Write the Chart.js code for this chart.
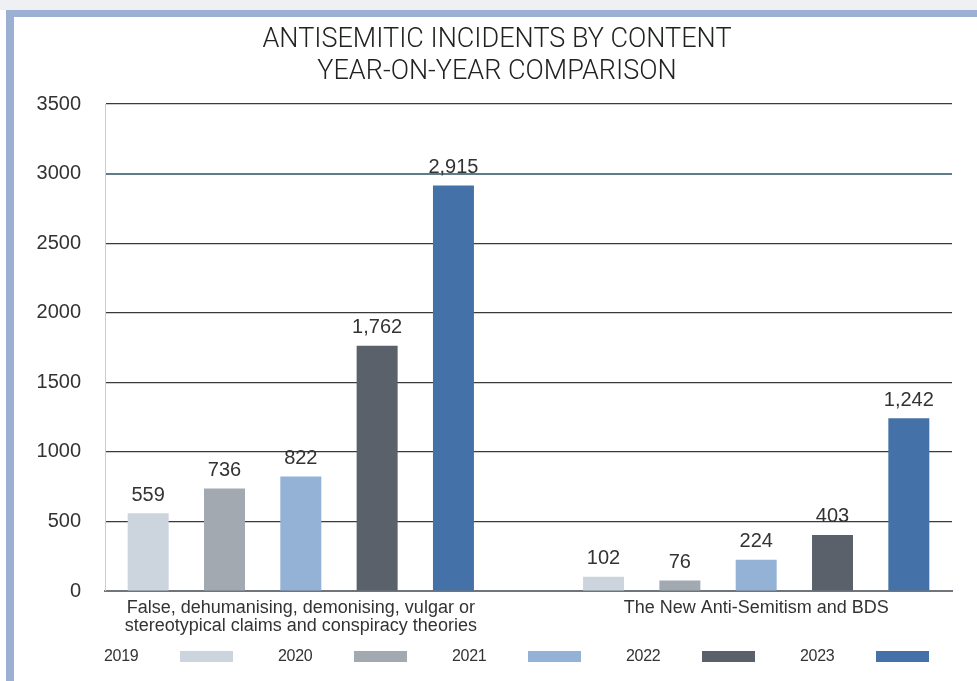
<!DOCTYPE html>
<html>
<head>
<meta charset="utf-8">
<script src="https://cdn.jsdelivr.net/npm/chart.js@4/dist/chart.umd.min.js"></script>
<style>
  html, body { margin: 0; padding: 0; background: #fff; }
  #wrap { position: relative; width: 977px; height: 681px; overflow: hidden; }
  #topStrip { position: absolute; left: 0; top: 0; width: 977px; height: 10px; background: #eef0f3; }
  #topBand { position: absolute; left: 6px; top: 10px; width: 971px; height: 7px; background: #9cb0d4; }
  #leftBand { position: absolute; left: 6px; top: 10px; width: 8px; height: 671px; background: #9cb0d4; }
  #chart { position: absolute; left: 0; top: 0; }
  #title { position: absolute; left: 197px; top: 22px; width: 600px; text-align: center;
           font: 300 27px/32px Roboto, sans-serif; color: #222; }
  #legend { position: absolute; left: 104px; top: 646px; display: flex; font: 16px "Liberation Sans", Arial, sans-serif; color: #333; }
  .item { display: flex; align-items: center; width: 174px; height: 20px; }
  .item span { width: 76px; letter-spacing: -0.3px; }
  .item i { display: block; width: 53px; height: 11px; }
</style>
</head>
<body>
<div id="wrap">
  <div id="topStrip"></div>
  <div id="topBand"></div>
  <div id="leftBand"></div>
  <canvas id="chart" width="977" height="681"></canvas>
  <div id="title"></div>
  <div id="legend"></div>
</div>
<script>
// ── Data ─────────────────────────────────────────────
const titleLines = ['ANTISEMITIC INCIDENTS BY CONTENT', 'YEAR-ON-YEAR COMPARISON'];
const categories = [
  ['False, dehumanising, demonising, vulgar or', 'stereotypical claims and conspiracy theories'],
  'The New Anti-Semitism and BDS'
];
const years = ['2019', '2020', '2021', '2022', '2023'];
const v2019 = [559, 102];
const v2020 = [736, 76];
const v2021 = [822, 224];
const v2022 = [1762, 403];
const v2023 = [2915, 1242];
const yTicks = [0, 500, 1000, 1500, 2000, 2500, 3000, 3500];
const colors = ['#ccd5de', '#a3a9b1', '#94b1d6', '#5a616b', '#4472a8'];

const series = [v2019, v2020, v2021, v2022, v2023];

// ── Value labels above bars ──────────────────────────
const valueLabels = {
    id: 'valueLabels',
    afterDatasetsDraw(chart) {
        const ctx = chart.ctx;
        ctx.save();
        ctx.font = '20px "Liberation Sans", Arial, sans-serif';
        ctx.fillStyle = '#333';
        ctx.textAlign = 'center';
        ctx.textBaseline = 'bottom';
        chart.data.datasets.forEach((ds, i) => {
            chart.getDatasetMeta(i).data.forEach((bar, j) => {
                ctx.fillText(ds.data[j].y.toLocaleString('en-US'), bar.x, bar.y - 8);
            });
        });
        ctx.restore();
    }
};

new Chart(document.getElementById('chart'), {
    type: 'bar',
    data: {
        datasets: years.map((yr, i) => ({
            label: yr,
            data: categories.map((c, j) => ({ x: j, y: series[i][j] })),
            backgroundColor: colors[i],
            categoryPercentage: 0.838,
            barPercentage: 0.537
        }))
    },
    options: {
        responsive: false,
        animation: false,
        layout: { padding: { left: 20, right: 25, top: 104, bottom: 46 } },
        plugins: {
            legend: { display: false },
            tooltip: { enabled: false }
        },
        scales: {
            x: {
                type: 'linear',
                offset: false,
                min: -0.43,
                max: 1.43,
                afterBuildTicks: s => { s.ticks = categories.map((c, i) => ({ value: i })); },
                grid: { display: false },
                border: { color: '#6f757b', width: 2 },
                ticks: {
                    autoSkip: false,
                    maxRotation: 0,
                    padding: 0,
                    color: '#333',
                    font: { family: 'Liberation Sans', size: 18, lineHeight: 1.0 },
                    callback: v => categories[Math.round(v)]
                }
            },
            y: {
                min: 0,
                max: 3500,
                afterBuildTicks: s => { s.ticks = yTicks.map(v => ({ value: v })); },
                afterFit: s => { s.width = 85; },
                grid: {
                    drawTicks: false,
                    color: c => c.tick.value === 3000 ? '#5f7d86' : (c.tick.value === 0 ? '#6f757b' : '#3a3a3a'),
                    lineWidth: c => c.tick.value === 3000 ? 2 : 1.2
                },
                border: { color: '#a8d8ea', width: 1 },
                ticks: {
                    padding: 24,
                    color: '#333',
                    font: { family: 'Liberation Sans', size: 20 },
                    callback: v => String(v)
                }
            }
        }
    },
    plugins: [valueLabels]
});

// ── HTML title and legend (text then swatch) ─────────
document.getElementById('title').innerHTML = titleLines.join('<br>');
const legend = document.getElementById('legend');
years.forEach((yr, i) => {
    const item = document.createElement('div');
    item.className = 'item';
    item.innerHTML = '<span>' + yr + '</span><i style="background:' + colors[i] + '"></i>';
    legend.appendChild(item);
});
</script>
</body>
</html>
